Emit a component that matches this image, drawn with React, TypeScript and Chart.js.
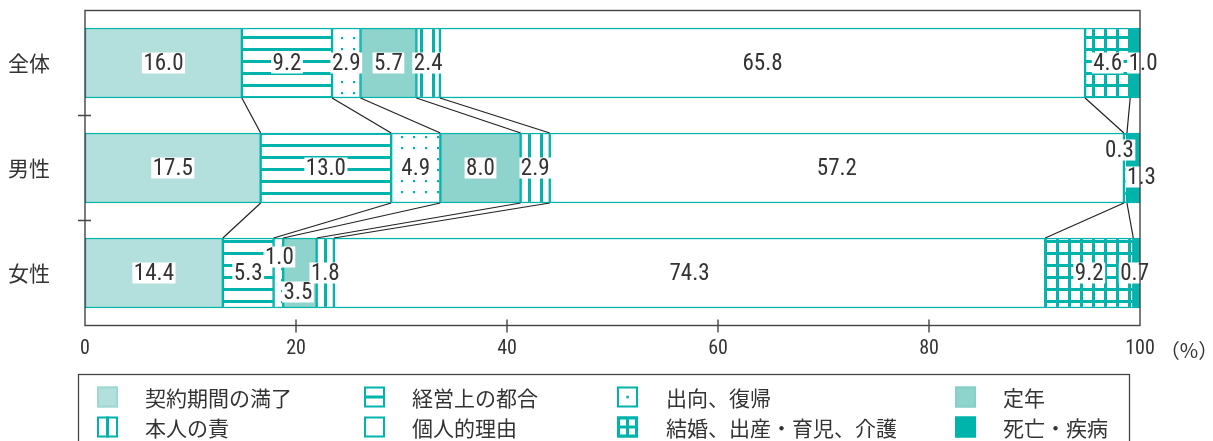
import React, { useEffect, useRef } from 'react';
import { Chart, registerables } from 'chart.js';

Chart.register(...registerables);

// ---------- data ----------
const categories = ['全体', '男性', '女性'];
const seriesNames = [
  '契約期間の満了',
  '経営上の都合',
  '出向、復帰',
  '定年',
  '本人の責',
  '個人的理由',
  '結婚、出産・育児、介護',
  '死亡・疾病',
];
const contractEnd = [16.0, 17.5, 14.4];
const businessReasons = [9.2, 13.0, 5.3];
const transferReturn = [2.9, 4.9, 1.0];
const retirementAge = [5.7, 8.0, 3.5];
const ownFault = [2.4, 2.9, 1.8];
const personalReasons = [65.8, 57.2, 74.3];
const familyReasons = [4.6, 0.3, 9.2];
const deathIllness = [1.0, 1.3, 0.7];
const xTickValues = [0, 20, 40, 60, 80, 100];
const unitLabel = '（%）';

// label nudges [dx, dy] per series per category (styling only)
const labelNudges: number[][][] = [
  [[0, 0], [0, 0], [0, 0]],
  [[0, 0], [0, 0], [0, 0]],
  [[0, 0], [0, 0], [1, -16]],
  [[0, 0], [0, 0], [-2, 19]],
  [[0, 0], [0, 0], [0, 0]],
  [[0, 0], [0, 0], [0, 0]],
  [[0, 0], [-6, -18], [0, 0]],
  [[8, 0], [8, 9], [-2, 0]],
];

// ---------- style ----------
const TEAL = '#00b4ac';
const LIGHT = '#b3dfdc';
const MID = '#8ed3cc';
const INK = '#333333';
const FRAME = '#444444';
const fontNarrow = "'Liberation Sans Narrow', 'Roboto Condensed', 'DejaVu Sans Condensed', 'Liberation Sans', sans-serif";
const fontCJK = "'Noto Sans CJK JP', 'Noto Sans CJK SC', sans-serif";

function makeTile(w: number, h: number, draw: (g: CanvasRenderingContext2D) => void) {
  const c = document.createElement('canvas');
  c.width = w;
  c.height = h;
  const g = c.getContext('2d')!;
  g.fillStyle = '#ffffff';
  g.fillRect(0, 0, w, h);
  g.fillStyle = TEAL;
  draw(g);
  return c;
}

function drawIcon(ctx: CanvasRenderingContext2D, k: number, x: number, y: number, w: number, h: number) {
  ctx.save();
  let stroke = TEAL;
  if (k === 0) {
    ctx.fillStyle = LIGHT;
    ctx.fillRect(x, y, w, h);
    stroke = '#9fd7d2';
  } else if (k === 3) {
    ctx.fillStyle = MID;
    ctx.fillRect(x, y, w, h);
    stroke = '#86cfc8';
  } else if (k === 7) {
    ctx.fillStyle = TEAL;
    ctx.fillRect(x, y, w, h);
  } else if (k === 6) {
    ctx.fillStyle = TEAL;
    ctx.fillRect(x, y, w, h);
    ctx.fillStyle = '#ffffff';
    const s = (w - 9) / 2;
    const t = (h - 9) / 2;
    ctx.fillRect(x + 3, y + 3, s, t);
    ctx.fillRect(x + 6 + s, y + 3, s, t);
    ctx.fillRect(x + 3, y + 6 + t, s, t);
    ctx.fillRect(x + 6 + s, y + 6 + t, s, t);
  } else {
    ctx.fillStyle = '#ffffff';
    ctx.fillRect(x, y, w, h);
    ctx.fillStyle = TEAL;
    if (k === 1) ctx.fillRect(x, y + h / 2 - 1.5, w, 3);
    if (k === 4) ctx.fillRect(x + w / 2 - 1.5, y, 3, h);
    if (k === 2) ctx.fillRect(x + w / 2 - 1.2, y + h / 2 - 1.2, 2.5, 2.5);
  }
  ctx.strokeStyle = stroke;
  ctx.lineWidth = 2;
  ctx.strokeRect(x + 1, y + 1, w - 2, h - 2);
  ctx.restore();
}

export default function App() {
  const canvasRef = useRef<HTMLCanvasElement | null>(null);

  useEffect(() => {
    const canvas = canvasRef.current;
    if (!canvas) return;
    const ctx0 = canvas.getContext('2d')!;

    const hLines = ctx0.createPattern(makeTile(12, 12, (g) => g.fillRect(0, 0, 12, 3)), 'repeat')!;
    const vLines = ctx0.createPattern(makeTile(12, 12, (g) => g.fillRect(0, 0, 3, 12)), 'repeat')!;
    const dots = ctx0.createPattern(makeTile(12, 11, (g) => g.fillRect(5, 4, 2.2, 2.2)), 'repeat')!;
    const gridP = ctx0.createPattern(
      makeTile(12, 12, (g) => {
        g.fillRect(0, 0, 12, 3);
        g.fillRect(0, 0, 3, 12);
      }),
      'repeat'
    )!;

    const series = [
      contractEnd,
      businessReasons,
      transferReturn,
      retirementAge,
      ownFault,
      personalReasons,
      familyReasons,
      deathIllness,
    ];
    const fills: (string | CanvasPattern)[] = [LIGHT, hLines, dots, MID, vLines, '#ffffff', gridP, TEAL];
    const totals = categories.map((_, i) => series.reduce((s, arr) => s + arr[i], 0));

    const datasets = series.map((arr, k) => ({
      label: seriesNames[k],
      data: arr.map((v, i) => (v / totals[i]) * 100),
      backgroundColor: fills[k],
      borderColor: TEAL,
      borderWidth: 1.5,
      borderSkipped: false,
      barThickness: 70,
    }));

    const decor = {
      id: 'decor',
      afterDatasetsDraw(chart: any) {
        const ctx: CanvasRenderingContext2D = chart.ctx;
        const metas = series.map((_, k) => chart.getDatasetMeta(k));
        // connector lines
        ctx.save();
        ctx.strokeStyle = '#222222';
        ctx.lineWidth = 1.2;
        for (let k = 0; k < metas.length - 1; k++) {
          for (let i = 0; i < categories.length - 1; i++) {
            const a = metas[k].data[i];
            const b = metas[k].data[i + 1];
            ctx.beginPath();
            ctx.moveTo(a.x, a.y + a.height / 2);
            ctx.lineTo(b.x, b.y - b.height / 2);
            ctx.stroke();
          }
        }
        ctx.restore();
        // value labels
        ctx.save();
        ctx.font = `23px ${fontNarrow}`;
        ctx.textAlign = 'center';
        ctx.textBaseline = 'middle';
        for (let k = 0; k < metas.length; k++) {
          for (let i = 0; i < categories.length; i++) {
            const el = metas[k].data[i];
            const txt = series[k][i].toFixed(1);
            const [dx, dy] = labelNudges[k][i];
            const cx = (el.x + el.base) / 2 + dx;
            const cy = el.y + dy;
            const w = ctx.measureText(txt).width;
            ctx.fillStyle = '#ffffff';
            ctx.fillRect(cx - w / 2 - 1.5, cy - 10.5, w + 3, 21);
            ctx.fillStyle = INK;
            ctx.fillText(txt, cx, cy + 1);
          }
        }
        ctx.restore();
      },
      afterDraw(chart: any) {
        const ctx: CanvasRenderingContext2D = chart.ctx;
        const { left, right, top, bottom } = chart.chartArea;
        const xs = chart.scales.x;
        const ys = chart.scales.y;
        ctx.save();
        ctx.strokeStyle = FRAME;
        ctx.lineWidth = 1.4;
        ctx.strokeRect(left, top, right - left, bottom - top);
        ctx.beginPath();
        xTickValues.forEach((v) => {
          if (v === xTickValues[0] || v === xTickValues[xTickValues.length - 1]) return;
          const px = xs.getPixelForValue(v);
          ctx.moveTo(px, bottom - 6);
          ctx.lineTo(px, bottom + 7);
        });
        for (let i = 0; i < categories.length - 1; i++) {
          const py = (ys.getPixelForValue(i) + ys.getPixelForValue(i + 1)) / 2;
          ctx.moveTo(left - 7, py);
          ctx.lineTo(left + 6, py);
        }
        ctx.stroke();

        // unit label
        ctx.fillStyle = INK;
        ctx.font = `20px ${fontCJK}`;
        ctx.textAlign = 'center';
        ctx.textBaseline = 'middle';
        ctx.fillText(unitLabel, 1189, 350);

        // legend
        ctx.strokeStyle = FRAME;
        ctx.lineWidth = 1.3;
        ctx.strokeRect(78.5, 374.5, 1051, 80);
        const iconX = [97, 364, 617, 955];
        const textX = [145, 412, 666, 1003];
        const rowY = [397, 427];
        ctx.font = `21px ${fontCJK}`;
        ctx.textAlign = 'left';
        ctx.textBaseline = 'middle';
        seriesNames.forEach((name, k) => {
          const col = k % 4;
          const row = Math.floor(k / 4);
          drawIcon(ctx, k, iconX[col], rowY[row] - 10.5, 21, 21);
          ctx.fillStyle = INK;
          ctx.fillText(name, textX[col], rowY[row] + 1);
        });
        ctx.restore();
      },
    };

    const chart = new Chart(canvas, {
      type: 'bar',
      data: { labels: categories, datasets },
      options: {
        indexAxis: 'y',
        responsive: false,
        devicePixelRatio: 1,
        animation: false,
        layout: { padding: { top: 10.5, right: 73, bottom: 0, left: 0 } },
        plugins: { legend: { display: false }, tooltip: { enabled: false } },
        scales: {
          x: {
            stacked: true,
            min: 0,
            max: 100,
            afterFit: (s: any) => {
              s.height = 115.5;
              s.paddingLeft = 0;
              s.paddingRight = 0;
            },
            afterBuildTicks: (s: any) => {
              s.ticks = xTickValues.map((v) => ({ value: v }));
            },
            grid: { display: false, drawTicks: false },
            border: { display: false },
            ticks: {
              color: INK,
              font: { family: fontNarrow, size: 20 },
              padding: 11,
              maxRotation: 0,
            },
          },
          y: {
            stacked: true,
            afterFit: (s: any) => {
              s.width = 85;
              s.paddingTop = 0;
              s.paddingBottom = 0;
            },
            grid: { display: false, drawTicks: false },
            border: { display: false },
            ticks: {
              color: INK,
              font: { family: fontCJK, size: 21 },
              padding: 35,
            },
          },
        },
      },
      plugins: [decor],
    } as any);

    return () => chart.destroy();
  }, []);

  return (
    <div style={{ position: 'absolute', left: 0, top: 0, width: 1213, height: 441, background: '#ffffff' }}>
      <canvas ref={canvasRef} width={1213} height={441} style={{ display: 'block' }} />
    </div>
  );
}
